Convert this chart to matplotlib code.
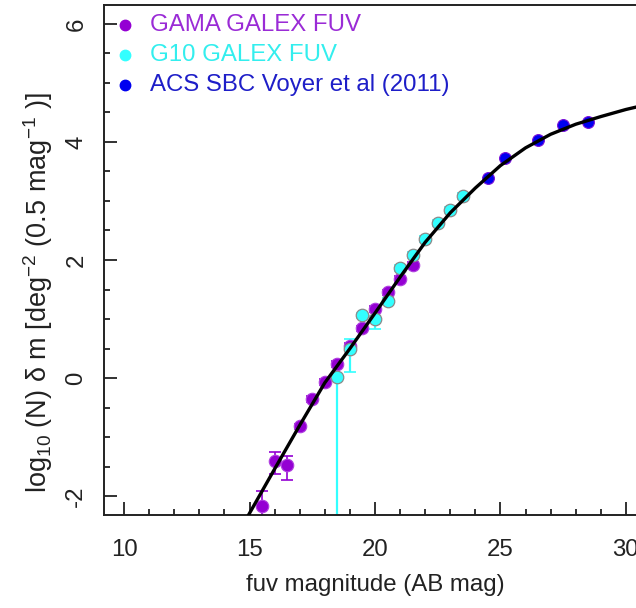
import matplotlib
matplotlib.use("Agg")
import matplotlib.pyplot as plt
import numpy as np

plt.rcParams['font.family'] = ['Liberation Sans', 'DejaVu Sans']
plt.rcParams['mathtext.fontset'] = 'custom'
plt.rcParams['mathtext.rm'] = 'Liberation Sans'
plt.rcParams['mathtext.it'] = 'Liberation Sans:italic'
plt.rcParams['axes.unicode_minus'] = False

# ---- data ----
gama_mag = [15.5, 16.0, 16.5, 17.0, 17.5, 18.0, 18.5, 19.0, 19.5, 20.0, 20.5, 21.0, 21.5]
gama_logn = [-2.17, -1.40, -1.47, -0.82, -0.36, -0.06, 0.24, 0.55, 0.84, 1.17, 1.45, 1.68, 1.92]
gama_err_lo = [0.25, 0.23, 0.26, 0.05, 0.05, 0.05, 0.05, 0.05, 0.05, 0.05, 0.05, 0.05, 0.05]
gama_err_hi = [0.25, 0.14, 0.15, 0.05, 0.05, 0.05, 0.05, 0.05, 0.05, 0.05, 0.05, 0.05, 0.05]

g10_mag = [18.5, 19.0, 19.5, 20.0, 20.5, 21.0, 21.5, 22.0, 22.5, 23.0, 23.5]
g10_logn = [0.01, 0.49, 1.06, 1.00, 1.31, 1.86, 2.09, 2.35, 2.62, 2.84, 3.09]
g10_err_lo = [6.0, 0.38, 0.05, 0.17, 0.05, 0.05, 0.05, 0.05, 0.05, 0.05, 0.05]
g10_err_hi = [0.05, 0.18, 0.05, 0.05, 0.05, 0.05, 0.05, 0.05, 0.05, 0.05, 0.05]

acs_mag = [24.5, 25.2, 26.5, 27.5, 28.5]
acs_logn = [3.39, 3.73, 4.04, 4.28, 4.34]

model_mag = [14.5, 15, 16, 17, 18, 19, 20, 21, 22, 23, 24, 25, 26, 27, 28, 29, 30, 31, 32]
model_logn = [-2.67, -2.29, -1.54, -0.80, -0.08, 0.50, 1.10, 1.71, 2.30, 2.80, 3.22, 3.60,
              3.90, 4.13, 4.30, 4.43, 4.55, 4.65, 4.74]

legend_labels = ["GAMA GALEX FUV", "G10 GALEX FUV", "ACS SBC Voyer et al (2011)"]

c_gama = '#9400D3'
c_g10 = '#33FFFF'
c_acs = '#0000F0'
legend_text_colors = ['#9A2BD6', '#33EEEE', '#1E1EC8']
legend_dot_colors = [c_gama, c_g10, c_acs]

FS = 17.3

W, H = 636, 608
fig = plt.figure(figsize=(W / 100, H / 100), dpi=100)
left_px, right_px, top_px, bot_px = 104, 646, 5, 515
ax = fig.add_axes([left_px / W, 1 - bot_px / H, (right_px - left_px) / W, (bot_px - top_px) / H])

ax.set_xlim(9.2, 30.8)
ax.set_ylim(-2.32, 6.32)

# error bars
ax.errorbar(gama_mag, gama_logn, yerr=[gama_err_lo, gama_err_hi], fmt='none',
            ecolor=c_gama, elinewidth=1.2, capsize=4, capthick=1.2, zorder=2)
ax.errorbar(g10_mag, g10_logn, yerr=[g10_err_lo, g10_err_hi], fmt='none',
            ecolor=c_g10, elinewidth=1.6, capsize=4, capthick=1.2, zorder=2)

ax.plot(gama_mag, gama_logn, 'o', ms=9, mfc=c_gama, mec='#B040E0', mew=0.8, zorder=3)
ax.plot(g10_mag, g10_logn, 'o', ms=9, mfc=c_g10, mec='#8A8A8A', mew=0.9, zorder=4)
ax.plot(acs_mag, acs_logn, 'o', ms=8.5, mfc=c_acs, mec='#7A10D8', mew=0.8, zorder=4)

ax.plot(model_mag, model_logn, '-', color='black', lw=2.4, zorder=6,
        solid_capstyle='round', solid_joinstyle='round')

# legend drawn manually
leg_y_px = [25, 55, 85]
for lab, ty, tc, dc in zip(legend_labels, leg_y_px, legend_text_colors, legend_dot_colors):
    xa = (125 - left_px) / (right_px - left_px)
    ya = (bot_px - ty) / (bot_px - top_px)
    ax.plot([xa], [ya], 'o', ms=7.5, mfc=dc, mec=dc, transform=ax.transAxes, zorder=7,
            clip_on=False)
    ax.text((150 - left_px) / (right_px - left_px), ya, lab, color=tc, fontsize=FS,
            va='center', ha='left', transform=ax.transAxes)

# ticks
ax.set_xticks([10, 15, 20, 25, 30])
ax.set_xticks(np.arange(10, 31, 1), minor=True)
ax.set_yticks([-2, 0, 2, 4, 6])
ax.set_yticks(np.arange(-2, 6.01, 0.5), minor=True)
ax.tick_params(which='both', direction='in', width=1.3, colors='#222222', labelcolor='#222222')
ax.tick_params(which='major', length=9.5, labelsize=FS)
ax.tick_params(which='minor', length=4)
ax.tick_params(axis='x', which='major', pad=17)
ax.tick_params(axis='y', which='major', pad=12)
for t in ax.get_yticklabels():
    t.set_rotation(90)
    t.set_va('center')

for s in ax.spines.values():
    s.set_linewidth(1.4)
    s.set_color('#222222')

ax.set_xlabel("fuv magnitude (AB mag)", fontsize=FS, color='#222222')
ax.xaxis.set_label_coords(0.5, -(585 - bot_px) / (bot_px - top_px))
ax.set_ylabel(r"log$_{10}$ (N) δ m [deg$^{-2}$ (0.5 mag$^{-1}$ )]", fontsize=19.5,
              color='#222222')
ax.yaxis.set_label_coords((38 - left_px) / (right_px - left_px), (bot_px - 293) / (bot_px - top_px))
ax.yaxis.label.set_va('center')
ax.xaxis.label.set_va('center')

fig.savefig("out.png", dpi=100)
